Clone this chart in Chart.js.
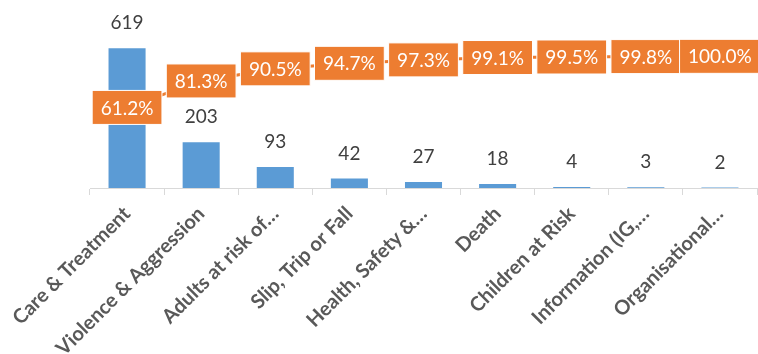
<!DOCTYPE html>
<html lang="en">
<head>
    <meta charset="UTF-8">
    <title>Incidents by category</title>
    <script src="https://cdn.jsdelivr.net/npm/chart.js@4.4.0/dist/chart.umd.min.js"></script>
    <style>
        html, body { margin: 0; padding: 0; background: #fff; }
        #chart { display: block; }
    </style>
</head>
<body>
<canvas id="chart" width="758" height="354"></canvas>

<script>
    // data
    var categories = [
        'Care & Treatment',
        'Violence & Aggression',
        'Adults at risk of\u2026',
        'Slip, Trip or Fall',
        'Health, Safety &\u2026',
        'Death',
        'Children at Risk',
        'Information (IG,\u2026',
        'Organisational\u2026'
    ];
    var counts = [619, 203, 93, 42, 27, 18, 4, 3, 2];
    var cumulativePct = [61.2, 81.3, 90.5, 94.7, 97.3, 99.1, 99.5, 99.8, 100.0];

    var blue = '#5B9BD5';
    var orange = '#ED7D31';

    // draws the count above each bar and the orange % boxes on the line
    var valueLabels = {
        id: 'valueLabels',
        afterDatasetsDraw: function(chart) {
            var ctx = chart.ctx;
            ctx.save();
            ctx.font = '19px Lato';
            ctx.textAlign = 'center';
            ctx.textBaseline = 'middle';

            ctx.fillStyle = '#404040';
            chart.getDatasetMeta(0).data.forEach(function(bar, i) {
                ctx.fillText(counts[i], bar.x, bar.y - 25);
            });

            chart.getDatasetMeta(1).data.forEach(function(pt, i) {
                var txt = cumulativePct[i].toFixed(1) + '%';
                var w = ctx.measureText(txt).width + 17;
                var h = 34;
                ctx.fillStyle = orange;
                ctx.fillRect(pt.x - w / 2, pt.y - h / 2, w, h);
                ctx.strokeStyle = '#fff';
                ctx.lineWidth = 1;
                ctx.strokeRect(pt.x - w / 2, pt.y - h / 2, w, h);
                ctx.fillStyle = '#fff';
                ctx.fillText(txt, pt.x, pt.y + 1);
            });
            ctx.restore();
        }
    };

    var ctx = document.getElementById('chart').getContext('2d');
    var myChart = new Chart(ctx, {
        data: {
            labels: categories,
            datasets: [
                {
                    type: 'bar',
                    data: counts,
                    backgroundColor: blue,
                    yAxisID: 'y',
                    barPercentage: 0.5,
                    categoryPercentage: 1,
                    order: 2
                },
                {
                    type: 'line',
                    data: cumulativePct,
                    borderColor: orange,
                    borderWidth: 3,
                    pointRadius: 0,
                    tension: 0,
                    yAxisID: 'y1',
                    order: 1
                }
            ]
        },
        options: {
            responsive: false,
            devicePixelRatio: 1,
            animation: false,
            layout: { padding: { left: 90, right: 1, top: 30, bottom: 0 } },
            plugins: {
                legend: { display: false },
                tooltip: { enabled: false }
            },
            scales: {
                x: {
                    offset: true,
                    border: { color: '#D9D9D9', width: 1 },
                    grid: {
                        offset: true,
                        drawOnChartArea: false,
                        color: '#D9D9D9',
                        tickLength: 7
                    },
                    ticks: {
                        autoSkip: false,
                        minRotation: 45,
                        maxRotation: 45,
                        padding: 7,
                        color: '#595959',
                        font: { family: 'Lato', size: 20, weight: 'bold' }
                    },
                    afterFit: function(scale) { scale.height = 166; }
                },
                y: { display: false, min: 0, max: 700 },
                y1: { display: false, min: 0, max: 120 }
            }
        },
        plugins: [valueLabels]
    });
</script>
</body>
</html>
